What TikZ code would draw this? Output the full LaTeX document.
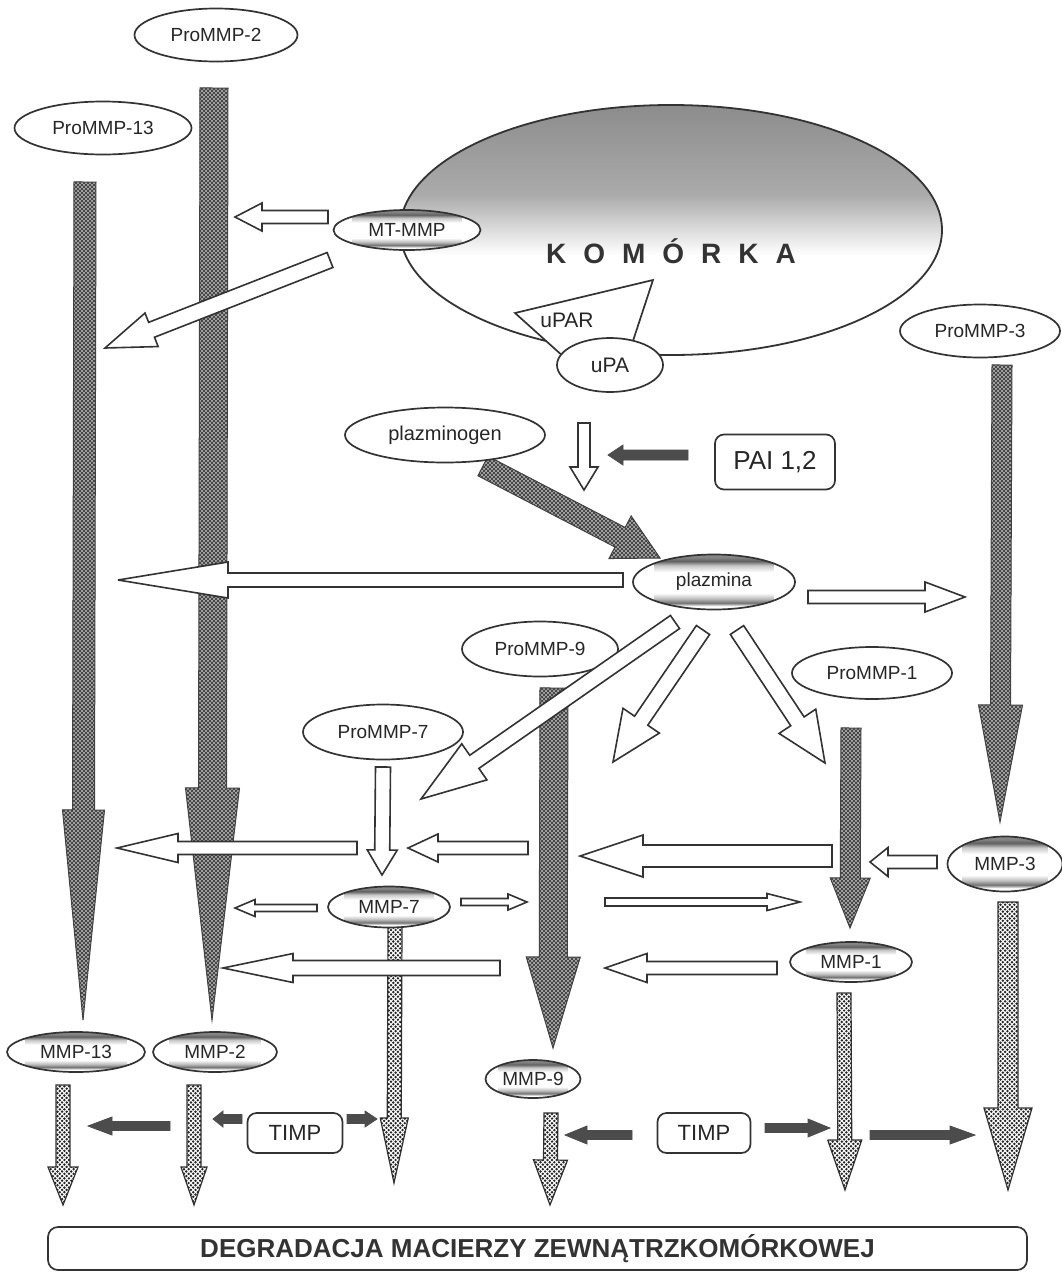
\documentclass[tikz,border=0pt]{standalone}
\usepackage{fontspec}
\setmainfont{Liberation Sans}
\usetikzlibrary{shapes.geometric,calc,patterns}

% metallic bands inside the enzyme ovals (the 25bp..75bp span is mapped onto the box)
\pgfdeclareverticalshading{bands}{100bp}{color(0bp)=(white); color(25bp)=(white); color(28bp)=(white); color(31bp)=(black!55); color(35bp)=(black!25); color(40bp)=(white); color(59bp)=(white); color(65bp)=(black!22); color(69bp)=(black!62); color(72bp)=(black!50); color(75bp)=(black!45); color(100bp)=(black!45)}
% grey cytoplasm fading downwards
\pgfdeclareverticalshading{cellgrad}{100bp}{color(0bp)=(white); color(25bp)=(white); color(45bp)=(white); color(57bp)=(black!33); color(75bp)=(black!45); color(100bp)=(black!45)}
% speckled fill of the degradation arrows
\pgfdeclarepatternformonly{dotfill}{\pgfqpoint{-1.5pt}{-1.5pt}}{\pgfqpoint{3.8pt}{3.8pt}}{\pgfqpoint{4.6pt}{4.6pt}}{%
  \pgfpathcircle{\pgfqpoint{0pt}{0pt}}{1.35pt}%
  \pgfpathcircle{\pgfqpoint{2.3pt}{2.3pt}}{1.35pt}%
  \pgfusepath{fill}}
% cross-hatched fill of the activation arrows
\pgfdeclarepatternformonly{xhatch}{\pgfqpoint{-1pt}{-1pt}}{\pgfqpoint{5pt}{5pt}}{\pgfqpoint{4pt}{4pt}}{%
  \pgfsetlinewidth{1pt}%
  \pgfpathmoveto{\pgfqpoint{-1pt}{-1pt}}\pgfpathlineto{\pgfqpoint{5pt}{5pt}}%
  \pgfpathmoveto{\pgfqpoint{-1pt}{5pt}}\pgfpathlineto{\pgfqpoint{5pt}{-1pt}}%
  \pgfusepath{stroke}}

\newcommand{\setfs}[1]{\fontsize{#1}{#1}\selectfont}

% block arrow: style, tail, tip, shaft half width, head half width, head length
\newcommand{\blockarrow}[6]{%
  \coordinate (hb) at ($(#3)!#6!(#2)$);
  \path[#1] ($(#2)!#4!90:(#3)$) -- ($(hb)!#4!90:(#3)$) -- ($(hb)!#5!90:(#3)$) -- (#3)
    -- ($(hb)!#5!-90:(#3)$) -- ($(hb)!#4!-90:(#3)$) -- ($(#2)!#4!-90:(#3)$) -- cycle;}

\tikzset{
  oval/.style={ellipse, draw=black!80, line width=1.7pt, fill=white, inner sep=0pt,
    font=\setfs{19}, text=black!85},
  band/.style={oval, path picture={\shade[shading=bands]
    ($(path picture bounding box.south west)!0.13!(path picture bounding box.south east)$) rectangle
    ($(path picture bounding box.north east)!0.13!(path picture bounding box.north west)$);}},
  tag/.style={rectangle, rounded corners=9pt, draw=black!80, line width=1.7pt, fill=white,
    inner sep=0pt, text=black!85},
  hatch/.style={draw=black!75, line width=1pt, fill=gray!50, line join=miter,
    postaction={pattern=xhatch, pattern color=black!72}},
  speck/.style={draw=black!80, line width=1.2pt, fill=white, line join=miter,
    postaction={pattern=dotfill, pattern color=black!85}},
  hollow/.style={draw=black!80, line width=1.6pt, fill=white, line join=miter, miter limit=6},
  inkarrow/.style={draw=black!70, line width=0.8pt, fill=black!70, line join=miter}
}

\begin{document}
\begin{tikzpicture}[x=1pt,y=-1pt]
\useasboundingbox[fill=white] (0,0) rectangle (1061,1275);

% ---------- the cell ----------
\node[ellipse, draw=black!80, line width=1.8pt, minimum width=542pt, minimum height=250pt, inner sep=0pt,
  path picture={\shade[shading=cellgrad] (path picture bounding box.south west) rectangle (path picture bounding box.north east);}]
  (cell) at (671,230) {};
\node[font=\bfseries\setfs{28}, text=black!80] (komorka) at (671,251) {\spaceskip=17pt K O M Ó R K A};
\draw[draw=black!80, line width=1.7pt, fill=white, line join=miter] (515,313) -- (653,280) -- (630,350) -- (565,358) -- cycle;
\node[font=\setfs{21}, text=black!85] (upar) at (567,320) {uPAR};
\node[oval, minimum width=106pt, minimum height=54pt, font=\setfs{21}] (upa) at (610,365) {uPA};

% ---------- arrow end points ----------
\coordinate (h2a) at (214,88);   \coordinate (h2b) at (212,1020);
\coordinate (h13a) at (85,182);  \coordinate (h13b) at (83,1020);
\coordinate (h3a) at (1002,365); \coordinate (h3b) at (1000,822);
\coordinate (h9a) at (554,688);  \coordinate (h9b) at (553,1048);
\coordinate (h1a) at (851,728);  \coordinate (h1b) at (850,928);
\coordinate (hpa) at (483,466);  \coordinate (hpb) at (660,558);

\coordinate (d13a) at (63,1085);  \coordinate (d13b) at (63,1205);
\coordinate (d2a) at (194,1085);  \coordinate (d2b) at (194,1205);
\coordinate (d7a) at (395,926);   \coordinate (d7b) at (394,1183);
\coordinate (d9a) at (551,1113);  \coordinate (d9b) at (550,1205);
\coordinate (d1a) at (844,993);   \coordinate (d1b) at (845,1190);
\coordinate (d3a) at (1008,902);  \coordinate (d3b) at (1008,1190);

\coordinate (w1a) at (328,217);  \coordinate (w1b) at (235,217);
\coordinate (w2a) at (330,260);  \coordinate (w2b) at (105,348);
\coordinate (w3a) at (584,423);  \coordinate (w3b) at (584,490);
\coordinate (w4a) at (623,580);  \coordinate (w4b) at (118,580);
\coordinate (w5a) at (808,597);  \coordinate (w5b) at (965,597);
\coordinate (w6a) at (675,622);  \coordinate (w6b) at (421,799);
\coordinate (w7a) at (703,630);  \coordinate (w7b) at (613,762);
\coordinate (w8a) at (737,630);  \coordinate (w8b) at (825,763);
\coordinate (w9a) at (383,767);  \coordinate (w9b) at (382,875);
\coordinate (w10a) at (357,848); \coordinate (w10b) at (117,848);
\coordinate (w11a) at (528,848); \coordinate (w11b) at (408,848);
\coordinate (w12a) at (832,856); \coordinate (w12b) at (580,856);
\coordinate (w13a) at (937,862); \coordinate (w13b) at (870,862);
\coordinate (w14a) at (317,908); \coordinate (w14b) at (235,908);
\coordinate (w15a) at (461,902); \coordinate (w15b) at (527,902);
\coordinate (w16a) at (605,902); \coordinate (w16b) at (800,902);
\coordinate (w17a) at (500,968); \coordinate (w17b) at (223,968);
\coordinate (w18a) at (777,968); \coordinate (w18b) at (605,968);

\coordinate (s1a) at (688,455);  \coordinate (s1b) at (608,455);
\coordinate (s2a) at (242,1119); \coordinate (s2b) at (213,1119);
\coordinate (s3a) at (347,1119); \coordinate (s3b) at (377,1119);
\coordinate (s4a) at (170,1126); \coordinate (s4b) at (88,1126);
\coordinate (s5a) at (632,1135); \coordinate (s5b) at (565,1135);
\coordinate (s6a) at (765,1128); \coordinate (s6b) at (830,1128);
\coordinate (s7a) at (870,1135); \coordinate (s7b) at (975,1135);

% ---------- activation arrows (hatched) ----------
\blockarrow{hatch}{h2a}{h2b}{14pt}{27pt}{232pt}
\blockarrow{hatch}{h13a}{h13b}{11pt}{21pt}{210pt}
\blockarrow{hatch}{h3a}{h3b}{10pt}{22pt}{117pt}
\blockarrow{hatch}{h9a}{h9b}{14pt}{27pt}{91pt}
\blockarrow{hatch}{h1a}{h1b}{10pt}{20pt}{50pt}
\blockarrow{hatch}{hpa}{hpb}{11pt}{24pt}{45pt}

% ---------- pro-enzymes ----------
\node[oval, minimum width=163pt, minimum height=53pt] (pro2) at (216,35) {ProMMP-2};
\node[oval, minimum width=177pt, minimum height=53pt] (pro13) at (103,128) {ProMMP-13};
\node[oval, minimum width=160pt, minimum height=53pt] (pro3) at (980,331) {ProMMP-3};
\node[oval, minimum width=200pt, minimum height=55pt, font=\setfs{20}] (plg) at (445,435) {plazminogen};
\node[oval, minimum width=156pt, minimum height=55pt] (pro9) at (540,649) {ProMMP-9};
\node[oval, minimum width=160pt, minimum height=52pt] (pro1) at (872,673) {ProMMP-1};
\node[oval, minimum width=160pt, minimum height=55pt] (pro7) at (383,732) {ProMMP-7};

% ---------- degradation arrows (speckled) ----------
\blockarrow{speck}{d13a}{d13b}{7pt}{15pt}{38pt}
\blockarrow{speck}{d2a}{d2b}{7pt}{13pt}{38pt}
\blockarrow{speck}{d7a}{d7b}{7pt}{14pt}{65pt}
\blockarrow{speck}{d9a}{d9b}{7pt}{17pt}{45pt}
\blockarrow{speck}{d1a}{d1b}{7pt}{17pt}{50pt}
\blockarrow{speck}{d3a}{d3b}{10pt}{24pt}{82pt}

% ---------- activation steps (open arrows) ----------
\blockarrow{hollow}{w1a}{w1b}{6.5pt}{14pt}{27pt}
\blockarrow{hollow}{w2a}{w2b}{8pt}{18pt}{50pt}
\blockarrow{hollow}{w3a}{w3b}{6pt}{14pt}{23pt}
\blockarrow{hollow}{w4a}{w4b}{7pt}{18pt}{110pt}
\blockarrow{hollow}{w5a}{w5b}{6.5pt}{15pt}{40pt}
\blockarrow{hollow}{w6a}{w6b}{8pt}{22pt}{65pt}
\blockarrow{hollow}{w7a}{w7b}{8pt}{22pt}{50pt}
\blockarrow{hollow}{w8a}{w8b}{8pt}{22pt}{50pt}
\blockarrow{hollow}{w9a}{w9b}{7.5pt}{15pt}{25pt}
\blockarrow{hollow}{w10a}{w10b}{6.5pt}{14.5pt}{61pt}
\blockarrow{hollow}{w11a}{w11b}{6.5pt}{14pt}{30pt}
\blockarrow{hollow}{w12a}{w12b}{11pt}{21pt}{63pt}
\blockarrow{hollow}{w13a}{w13b}{6.5pt}{14.5pt}{18pt}
\blockarrow{hollow}{w14a}{w14b}{3.5pt}{8.5pt}{20pt}
\blockarrow{hollow}{w15a}{w15b}{3.5pt}{8pt}{19pt}
\blockarrow{hollow}{w16a}{w16b}{4pt}{8.5pt}{33pt}
\blockarrow{hollow}{w17a}{w17b}{7.5pt}{14.5pt}{70pt}
\blockarrow{hollow}{w18a}{w18b}{6.5pt}{14.5pt}{42pt}

% ---------- inhibitor arrows (solid) ----------
\blockarrow{inkarrow}{s1a}{s1b}{5pt}{10pt}{15pt}
\blockarrow{inkarrow}{s2a}{s2b}{4.5pt}{8pt}{10pt}
\blockarrow{inkarrow}{s3a}{s3b}{4.5pt}{8pt}{12pt}
\blockarrow{inkarrow}{s4a}{s4b}{4.5pt}{9pt}{24pt}
\blockarrow{inkarrow}{s5a}{s5b}{4.5pt}{9pt}{22pt}
\blockarrow{inkarrow}{s6a}{s6b}{4.5pt}{9pt}{22pt}
\blockarrow{inkarrow}{s7a}{s7b}{4.5pt}{9pt}{25pt}

% ---------- active enzymes ----------
\node[band, minimum width=147pt, minimum height=40pt] (mtmmp) at (407,230) {MT-MMP};
\node[band, minimum width=162pt, minimum height=55pt] (plazmina) at (714,582) {plazmina};
\node[band, minimum width=122pt, minimum height=41pt] (mmp7) at (389,907) {MMP-7};
\node[band, minimum width=115pt, minimum height=55pt] (mmp3) at (1005,864) {MMP-3};
\node[band, minimum width=122pt, minimum height=40pt] (mmp1) at (851,962) {MMP-1};
\node[band, minimum width=138pt, minimum height=40pt] (mmp13) at (76,1052) {MMP-13};
\node[band, minimum width=124pt, minimum height=40pt] (mmp2) at (215,1052) {MMP-2};
\node[band, minimum width=95pt, minimum height=38pt] (mmp9) at (533,1079) {MMP-9};

% ---------- inhibitors ----------
\node[tag, minimum width=120pt, minimum height=55pt, font=\setfs{26}] (pai) at (775,462) {PAI 1,2};
\node[tag, minimum width=95pt, minimum height=40pt, font=\setfs{22}] (timpl) at (295,1133) {TIMP};
\node[tag, minimum width=93pt, minimum height=40pt, font=\setfs{22}] (timpr) at (704,1133) {TIMP};

% ---------- outcome ----------
\node[rectangle, rounded corners=10pt, draw=black!80, line width=1.7pt, minimum width=979pt, minimum height=43pt,
  font=\bfseries\setfs{26}, text=black!80] (degr) at (537.5,1248.5) {DEGRADACJA MACIERZY ZEWNĄTRZKOMÓRKOWEJ};
\end{tikzpicture}
\end{document}
